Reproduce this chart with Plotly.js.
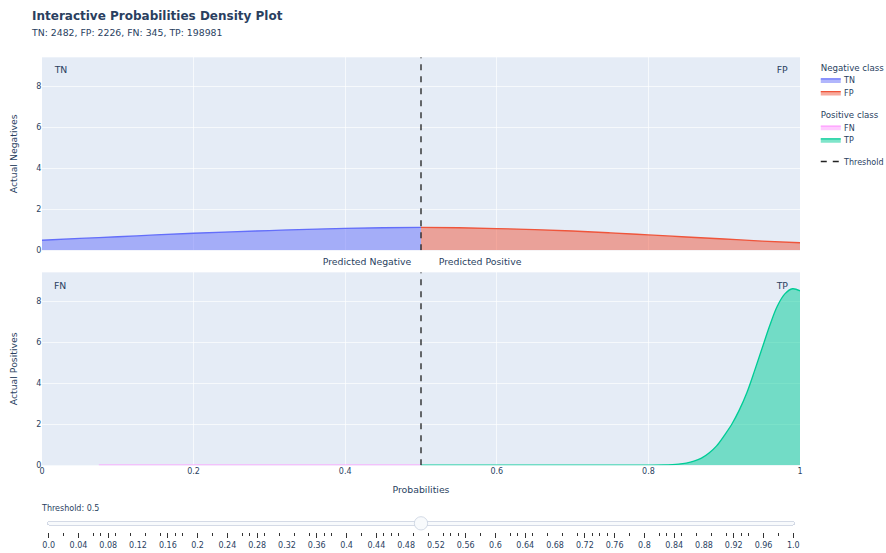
<!DOCTYPE html>
<html>
<head>
<meta charset="utf-8">
<script src="https://cdn.plot.ly/plotly-3.0.1.min.js"></script>
<style>
html,body{margin:0;padding:0;background:#fff;overflow:hidden;}
#wrap{width:886px;height:553px;overflow:hidden;position:relative;}
#chart{width:1329px;height:830px;transform:scale(0.666667);transform-origin:0 0;}
</style>
</head>
<body>
<div id="wrap"><div id="chart"></div></div>
<script>
// ---- data ----
const threshold = 0.5;
const yMax = 9.4;
const tnX = [0, 0.05, 0.1, 0.15, 0.2, 0.25, 0.3, 0.35, 0.4, 0.45, 0.5];
const tnY = [0.49, 0.58, 0.66, 0.75, 0.83, 0.90, 0.96, 1.02, 1.07, 1.10, 1.12];
const fpX = [0.5, 0.55, 0.6, 0.65, 0.7, 0.75, 0.8, 0.85, 0.9, 0.95, 1.0];
const fpY = [1.12, 1.10, 1.06, 1.01, 0.94, 0.85, 0.75, 0.65, 0.55, 0.45, 0.37];
const fnX = [0.075, 0.2, 0.3, 0.4, 0.5];
const fnY = [0.01, 0.01, 0.01, 0.01, 0.01];
const tpX = [0.5, 0.6, 0.7, 0.8, 0.82, 0.84, 0.85, 0.86, 0.87, 0.88, 0.89, 0.9, 0.91, 0.92, 0.93, 0.94, 0.95, 0.96, 0.97, 0.98, 0.99, 1.0];
const tpY = [0.01, 0.01, 0.01, 0.01, 0.02, 0.06, 0.11, 0.2, 0.35, 0.6, 0.95, 1.45, 2.0, 2.7, 3.55, 4.6, 5.7, 6.8, 7.75, 8.35, 8.6, 8.5];
const counts = {TN: 2482, FP: 2226, FN: 345, TP: 198981};
const xTickVals = [0, 0.2, 0.4, 0.6, 0.8, 1];
const yTickVals = [0, 2, 4, 6, 8];

// slider steps 0.00 .. 1.00
const sliderValues = [];
for (let i = 0; i <= 100; i++) sliderValues.push(i / 100);
const sliderLabels = sliderValues.map(v => (v === 0 ? '0.0' : v === 1 ? '1.0' : String(v)));

const traces = [
  {x: tnX, y: tnY, name: 'TN', type: 'scatter', mode: 'lines', fill: 'tozeroy',
   line: {color: '#636efa', shape: 'spline'}, xaxis: 'x2', yaxis: 'y2',
   legendgroup: 'neg', legendgrouptitle: {text: 'Negative class'}},
  {x: fpX, y: fpY, name: 'FP', type: 'scatter', mode: 'lines', fill: 'tozeroy',
   line: {color: '#EF553B', shape: 'spline'}, xaxis: 'x2', yaxis: 'y2',
   legendgroup: 'neg'},
  {x: fnX, y: fnY, name: 'FN', type: 'scatter', mode: 'lines', fill: 'tozeroy',
   line: {color: '#FF97FF', shape: 'spline'}, xaxis: 'x', yaxis: 'y',
   legendgroup: 'pos', legendgrouptitle: {text: 'Positive class'}},
  {x: tpX, y: tpY, name: 'TP', type: 'scatter', mode: 'lines', fill: 'tozeroy',
   line: {color: '#00CC96', shape: 'spline'}, xaxis: 'x', yaxis: 'y',
   legendgroup: 'pos'},
  {x: [threshold, threshold], y: [0, yMax], name: 'Threshold', type: 'scatter', mode: 'lines',
   line: {color: '#222222', width: 2, dash: 'dash'}, xaxis: 'x2', yaxis: 'y2', legendgroup: 'thr'},
  {x: [threshold, threshold], y: [0, yMax], name: 'Threshold', type: 'scatter', mode: 'lines',
   line: {color: '#222222', width: 2, dash: 'dash'}, xaxis: 'x', yaxis: 'y', legendgroup: 'thr', showlegend: false}
];

const fontCol = '#2a3f5f';
const annFont = {size: 14, color: fontCol};
const subtitle = `TN: ${counts.TN}, FP: ${counts.FP}, FN: ${counts.FN}, TP: ${counts.TP}`;
const layout = {
  width: 1329, height: 830,
  paper_bgcolor: '#ffffff', plot_bgcolor: '#E5ECF6',
  font: {family: '"DejaVu Sans", Verdana, sans-serif', size: 12, color: fontCol},
  margin: {l: 63, r: 129, t: 86, b: 132, autoexpand: false},
  title: {
    text: '<b>Interactive Probabilities Density Plot</b><br><span style="font-size:14px">' + subtitle + '</span>',
    font: {size: 18, color: fontCol},
    x: 48 / 1329, xanchor: 'left', xref: 'container',
    y: 1 - 30 / 830, yanchor: 'top', yref: 'container'
  },
  showlegend: true,
  legend: {x: 1.023, y: 1, xanchor: 'left', yanchor: 'top', font: {size: 12}, tracegroupgap: 13},
  xaxis: {domain: [0, 1], range: [0, 1], anchor: 'y', tickvals: xTickVals,
          gridcolor: '#ffffff', zeroline: false, showline: false, automargin: true,
          title: {text: 'Probabilities', font: {size: 14}, standoff: 16}},
  xaxis2: {domain: [0, 1], range: [0, 1], anchor: 'y2', matches: 'x', showticklabels: false, tickvals: xTickVals,
           gridcolor: '#ffffff', zeroline: false},
  yaxis: {domain: [0, 0.473], range: [0, yMax], tickvals: yTickVals, gridcolor: '#ffffff', zeroline: false,
          title: {text: 'Actual Positives', font: {size: 14}}},
  yaxis2: {domain: [0.527, 1], range: [0, yMax], anchor: 'x2', tickvals: yTickVals, gridcolor: '#ffffff', zeroline: false,
           title: {text: 'Actual Negatives', font: {size: 14}}},
  annotations: [
    {text: 'TN', xref: 'x2 domain', yref: 'y2 domain', x: 0.0145, y: 0.933, xanchor: 'left', yanchor: 'middle', showarrow: false, font: annFont},
    {text: 'FP', xref: 'x2 domain', yref: 'y2 domain', x: 0.986, y: 0.933, xanchor: 'right', yanchor: 'middle', showarrow: false, font: annFont},
    {text: 'FN', xref: 'x domain', yref: 'y domain', x: 0.0145, y: 0.933, xanchor: 'left', yanchor: 'middle', showarrow: false, font: annFont},
    {text: 'TP', xref: 'x domain', yref: 'y domain', x: 0.986, y: 0.933, xanchor: 'right', yanchor: 'middle', showarrow: false, font: annFont},
    {text: 'Predicted Negative', xref: 'x', yref: 'paper', x: threshold, y: 0.527, xanchor: 'right', yanchor: 'middle', xshift: -13, yshift: -18, showarrow: false, font: annFont},
    {text: 'Predicted Positive', xref: 'x', yref: 'paper', x: threshold, y: 0.527, xanchor: 'left', yanchor: 'middle', xshift: 24, yshift: -18, showarrow: false, font: annFont}
  ],
  sliders: [{
    active: sliderValues.indexOf(threshold),
    x: 0, len: 1, y: 0, yanchor: 'top',
    pad: {t: 53, b: 0, l: 0, r: 0},
    currentvalue: {prefix: 'Threshold: ', xanchor: 'left', font: {size: 12, color: fontCol}},
    font: {size: 12, color: fontCol},
    steps: sliderValues.map((v, i) => ({label: sliderLabels[i], value: sliderLabels[i], method: 'skip', args: []}))
  }]
};

Plotly.newPlot('chart', traces, layout, {displayModeBar: false});
</script>
</body>
</html>
